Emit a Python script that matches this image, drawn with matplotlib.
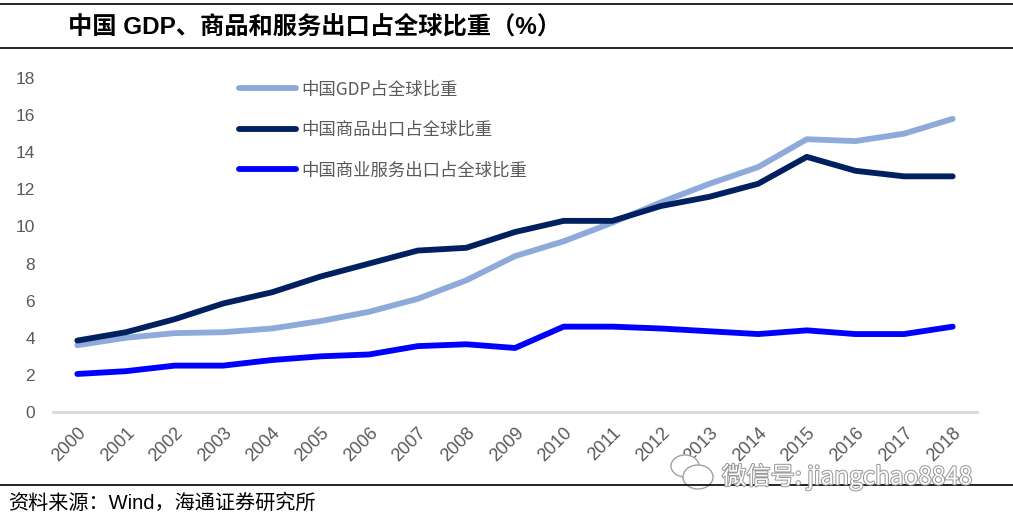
import matplotlib
matplotlib.use("Agg")
import matplotlib.pyplot as plt
import matplotlib.patheffects as pe
from matplotlib.lines import Line2D
from matplotlib.patches import Ellipse

plt.rcParams['font.family'] = ['Liberation Sans', 'Noto Sans CJK SC', 'DejaVu Sans']

years = [str(y) for y in range(2000, 2019)]
gdp_share = [3.6, 4.0, 4.25, 4.3, 4.5, 4.9, 5.4, 6.1, 7.1, 8.4, 9.2, 10.2, 11.3, 12.3, 13.2, 14.7, 14.6, 15.0, 15.8]
goods_share = [3.85, 4.3, 5.0, 5.85, 6.45, 7.3, 8.0, 8.7, 8.85, 9.7, 10.3, 10.3, 11.1, 11.6, 12.3, 13.75, 13.0, 12.7, 12.7]
service_share = [2.05, 2.2, 2.5, 2.5, 2.8, 3.0, 3.1, 3.55, 3.65, 3.45, 4.6, 4.6, 4.5, 4.35, 4.2, 4.4, 4.2, 4.2, 4.6]
labels = ["中国GDP占全球比重", "中国商品出口占全球比重", "中国商业服务出口占全球比重"]
colors = ["#8EAADB", "#002060", "#0000FF"]
yticks = [0, 2, 4, 6, 8, 10, 12, 14, 16, 18]

W, H = 1013, 524
fig = plt.figure(figsize=(W / 100, H / 100), dpi=100)
ax = fig.add_axes([53 / W, 1 - 412 / H, (977 - 53) / W, (412 - 78) / H])

x = list(range(len(years)))
for series, c in zip([gdp_share, goods_share, service_share], colors):
    ax.plot(x, series, color=c, lw=4.2, solid_capstyle='round', solid_joinstyle='round')

ax.set_xlim(-0.5, len(years) - 0.5)
ax.set_ylim(0, 18)
ax.set_yticks(yticks)
ax.set_yticklabels([str(v) for v in yticks])
ax.set_xticks(x)
ax.set_xticklabels(years, rotation=45, ha='right', va='top', rotation_mode='anchor')
ax.tick_params(axis='both', length=0, colors='#595959', labelsize=12.5)
ax.tick_params(axis='x', labelsize=13)
ax.tick_params(axis='y', pad=13)
ax.tick_params(axis='x', pad=9)
for s in ['top', 'right', 'left']:
    ax.spines[s].set_visible(False)
ax.spines['bottom'].set_color('#D9D9D9')
ax.spines['bottom'].set_linewidth(2)

handles = [Line2D([0], [0], color=c, lw=4.2, solid_capstyle='round') for c in colors]
leg = ax.legend(handles, labels, loc='upper left', bbox_to_anchor=(170 / (977 - 53), 1.04),
                frameon=False, handlelength=3.3, labelspacing=1.3, handletextpad=0.3,
                prop={'family': ['Noto Sans CJK SC'], 'size': 12.5})
for t in leg.get_texts():
    t.set_color('#595959')

# title and frame lines
fig.add_artist(Line2D([0, 1], [1 - 3.5 / H, 1 - 3.5 / H], color='black', lw=1.2))
fig.add_artist(Line2D([0, 1], [1 - 48 / H, 1 - 48 / H], color='black', lw=1.2))
fig.add_artist(Line2D([0, 1], [1 - 485 / H, 1 - 485 / H], color='black', lw=1.2))
fig.text(68 / W, 1 - 27 / H, "中国 GDP、商品和服务出口占全球比重（%）", fontsize=17.5,
         fontweight='bold', va='center', ha='left', color='black',
         family=['Liberation Sans', 'Noto Sans CJK SC'])
fig.text(8 / W, 1 - 503 / H, "资料来源：Wind，海通证券研究所", fontsize=14.5, va='center', ha='left',
         color='black', family=['Liberation Sans', 'Noto Sans CJK SC'])

# watermark (WeChat icon drawn as shapes + text)
for (cx, cy, w, h) in [(685, 466, 28, 22), (698, 477, 30, 24)]:
    fig.add_artist(Ellipse((cx / W, 1 - cy / H), w / W, h / H, facecolor='white',
                           edgecolor='#A0A0A0', lw=1.0, transform=fig.transFigure))
fig.text(722 / W, 1 - 477 / H, "微信号: jiangchao8848", fontsize=17.5, va='center', ha='left',
         color='white', family=['Noto Sans CJK SC', 'DejaVu Sans'],
         path_effects=[pe.withStroke(linewidth=1.5, foreground='#9A9A9A')])

fig.savefig("out.png", dpi=100)
